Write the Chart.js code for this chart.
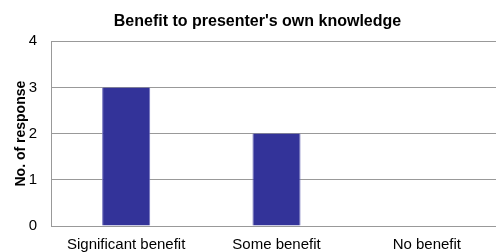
<!DOCTYPE html>
<html>
<head>
<meta charset="utf-8">
<script src="https://cdn.jsdelivr.net/npm/chart.js@4"></script>
<style>
  html, body { margin: 0; padding: 0; background: #fff; overflow: hidden; }
  #wrap { width: 496px; height: 252px; overflow: hidden; }
</style>
</head>
<body>
<div id="wrap"><canvas id="chart" width="502" height="252"></canvas></div>
<script>
const categories = ['Significant benefit', 'Some benefit', 'No benefit'];
const responses = [3, 2, 0];
const yTicks = [0, 1, 2, 3, 4];

const font = "'Liberation Sans', Arial, sans-serif";

new Chart(document.getElementById('chart'), {
    type: 'bar',
    data: {
        labels: categories,
        datasets: [{
            label: 'No. of response',
            data: responses,
            backgroundColor: '#333399',
            borderColor: '#7070bb',
            borderWidth: { left: 1, right: 1, top: 0, bottom: 0 },
            barPercentage: 0.64,
            categoryPercentage: 0.5
        }]
    },
    options: {
        responsive: false,
        animation: false,
        layout: { padding: { left: 13, right: 0, top: 0, bottom: 0 } },
        plugins: {
            legend: { display: false },
            tooltip: { enabled: false },
            title: {
                display: true,
                text: "Benefit to presenter's own knowledge",
                color: '#000',
                font: { family: font, size: 16, weight: 'bold' },
                padding: { top: 12, bottom: 10 }
            }
        },
        scales: {
            x: {
                grid: { display: false },
                border: { display: true, color: '#999', width: 1 },
                afterFit: axis => { axis.height = 26; },
                ticks: {
                    color: '#000',
                    font: { family: font, size: 15 },
                    maxRotation: 0,
                    padding: 2
                }
            },
            y: {
                min: 0,
                max: 4,
                afterBuildTicks: axis => { axis.ticks = yTicks.map(v => ({ value: v })); },
                afterFit: axis => { axis.width = 38; },
                grid: { color: '#999', drawTicks: false, lineWidth: 1 },
                border: { display: true, color: '#999', width: 1 },
                ticks: {
                    color: '#000',
                    font: { family: font, size: 15 },
                    padding: 14
                },
                title: {
                    display: true,
                    text: 'No. of response',
                    color: '#000',
                    font: { family: font, size: 14, weight: 'bold' },
                    padding: 0
                }
            }
        }
    }
});
</script>
</body>
</html>
